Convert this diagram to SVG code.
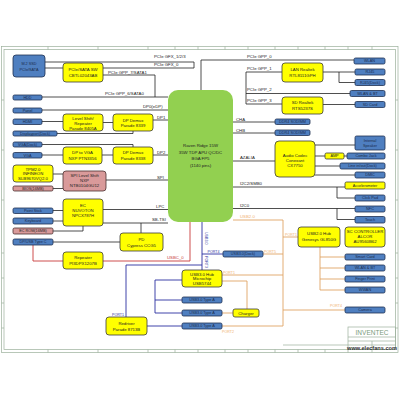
<svg xmlns="http://www.w3.org/2000/svg" width="400" height="400" viewBox="0 0 400 400">
<style>
text{font-family:"Liberation Sans",Arial,sans-serif;font-size:4.3px;fill:#222}
.c{text-anchor:middle}
.y{fill:#ffff00;stroke:#3a3a3a;stroke-width:0.8}
.b{fill:#4f7fc0;stroke:#1f3050;stroke-width:0.8}
.p{fill:#d99a9a;stroke:#4a3030;stroke-width:0.8}
.bt{fill:#1c2c4c;font-size:3.8px}
.k{fill:none;stroke:#222;stroke-width:0.8}
.o{fill:none;stroke:#e0a465;stroke-width:0.9}
.u{fill:none;stroke:#2a30a0;stroke-width:0.9}
.r{fill:none;stroke:#c83a3a;stroke-width:0.9}
.fr{fill:none;stroke:#9bb09b;stroke-width:0.7}
.ot{fill:#f0b070}
.ut{fill:#2a30a0}
.rt{fill:#c83a3a}
</style>
<rect width="400" height="400" fill="#fff"/>
<g id="frame">
<rect class="fr" x="1.5" y="46.5" width="396.5" height="306"/>
<rect class="fr" x="4" y="49.5" width="391.5" height="300"/>
<path class="fr" d="M48 46.5V49.5M98 46.5V49.5M148 46.5V49.5M175 46.5V49.5M198 46.5V49.5M225 46.5V49.5M248 46.5V49.5M275 46.5V49.5M298 46.5V49.5M325 46.5V49.5M348 46.5V49.5M372 46.5V49.5M48 349.5V352.5M98 349.5V352.5M148 349.5V352.5M175 349.5V352.5M198 349.5V352.5M225 349.5V352.5M248 349.5V352.5M275 349.5V352.5M298 349.5V352.5M325 349.5V352.5M348 349.5V352.5M372 349.5V352.5M1.5 100H4M1.5 150H4M1.5 200H4M1.5 253H4M1.5 278H4M1.5 303H4M1.5 328H4M395.5 100H398M395.5 150H398M395.5 200H398M395.5 253H398M395.5 278H398M395.5 303H398M395.5 328H398"/>
<rect class="fr" x="348" y="327" width="47.5" height="22.5"/>
<path class="fr" d="M348 337H395.5M348 341H395.5M348 345H395.5M283 345H348M372 341V349.5"/>
<text x="372" y="335" class="c" style="font-size:6.5px;fill:#7a9a7a">INVENTEC</text>
<text x="372" y="350" class="c" style="font-size:5.6px;font-weight:bold;fill:#333">www.elecfans.com</text>
</g>
<g id="connectors">
<path class="k" d="M45 62H194V68H45M103 75H155V97M42 97H168M42 110H168M42 121.5H63M103 122.5H113M153 120H168M57 133.5H133V131M42 144.5H133V147M42 155H63M102 155H113M153 155H168M53 174H63M53 188.5H63M106 180H168M103 209.5H168M103 223H168M141 223V233M53 210.5H63M53 221H63M53 231H83V226M53 242H120"/>
<path class="k" d="M201 90V60H354M246 72H282M246 93.5H350M246 104H282M246 72V104M323 72H355M339 72V82.5H355M323 104.5H355M233 122H275M233 133H275M233 161H275M315 145H355M315 156H325M344 156H347M315 166H340M315 175H355M233 187H345M337 187V198H355M233 208.5H355M337 208.5V219.5H355"/>
<path class="o" d="M233 220H283V326M283 237H298M263 254H283M222 275H283M222 281H247V309M222 313H233M222 326H283M283 310H345M320 247V290M320 257H345M320 268H345M320 279H345M320 290H345"/>
<path class="u" d="M202 222V270M202 254H223M202 265H126V317M147 326H182M182 280H155V313H182M155 300H182"/>
<path class="r" d="M190 222V261H103M63 261H33V245"/>
<text x="154" y="58">PCIe GFX_1/2/3</text>
<text x="154" y="65.5">PCIe GFX_0</text>
<text x="108" y="73.5">PCIe GPP_7/SATA1</text>
<text x="105" y="95">PCIe GPP_6/SATA0</text>
<text x="143" y="108">DP0(eDP)</text>
<text x="157" y="118.5">DP1</text>
<text x="157" y="153.5">DP2</text>
<text x="157" y="178.5">SPI</text>
<text x="156" y="207.5">LPC</text>
<text x="152" y="221">SB-TSI</text>
<text x="247" y="58">PCIe GPP_0</text>
<text x="247" y="69.5">PCIe GPP_1</text>
<text x="247" y="91">PCIe GPP_2</text>
<text x="247" y="102">PCIe GPP_3</text>
<text x="236" y="120.5">CHA</text>
<text x="236" y="131.5">CHB</text>
<text x="240" y="159">AZALIA</text>
<text x="240" y="185">I2C2/SMB0</text>
<text x="240" y="206.5">I2C0</text>
<text x="240" y="218" class="ot">USB2.0</text>
<text x="167" y="258.5" class="rt">USBC_0</text>
<text x="207.5" y="252.5" class="ut" style="font-size:3.6px">PORT4</text>
<text x="264" y="252.5" class="ot" style="font-size:3.6px">PORT5</text>
<text x="223" y="273.5" class="ot" style="font-size:3.6px">PORT1</text>
<text x="222" y="333" class="ot" style="font-size:3.6px">PORT2</text>
<text x="112" y="315.5" class="ut" style="font-size:3.6px">PORT1</text>
<text x="285" y="235.5" class="ot" style="font-size:3.6px">PORT1</text>
<text x="330" y="307" class="ot" style="font-size:3.6px">PORT4</text>
<text x="0" y="0" class="ut" style="font-size:3.6px" transform="translate(204.5 232) rotate(90)">USB3.0</text>
<text x="0" y="0" class="ut" style="font-size:3.6px" transform="translate(204.5 256) rotate(90)">PORT3</text>
</g>
<g id="apu"><rect x="168" y="90" width="65" height="132" rx="10" fill="#92d050"/>
<text class="c" x="200.5" y="147">Raven Ridge 15W</text><text class="c" x="200.5" y="153.5">35W TDP APU QC/DC</text><text class="c" x="200.5" y="160">BGA FP5</text><text class="c" x="200.5" y="166.7">(1140 pins)</text></g>
<g id="m2"><rect class="b" x="13" y="55" width="32" height="22" rx="3"/><text class="c bt" x="29" y="65">M.2 SSD</text><text class="c bt" x="29" y="70.5">PCIe/SATA</text></g>
<g id="sw"><rect class="y" x="63" y="63" width="40" height="19" rx="3"/><text class="c" x="83" y="71">PCIe/SATA SW</text><text class="c" x="83" y="77">CBTL02043AB</text></g>
<g id="hdd"><rect class="b" x="13" y="95" width="29" height="5" rx="1.5"/><text class="c bt" x="27.5" y="98.9">HDD</text></g>
<g id="panel"><rect class="b" x="13" y="108" width="29" height="5" rx="1.5"/><text class="c bt" x="27.5" y="111.9">Panel</text></g>
<g id="hdmi"><rect class="b" x="13" y="119" width="29" height="5.5" rx="1.5"/><text class="c bt" x="27.5" y="123.1">HDMI</text></g>
<g id="ls"><rect class="y" x="63" y="114" width="40" height="17" rx="3"/><text class="c" x="83" y="119.5">Level Shift/</text><text class="c" x="83" y="124.5">Repeater</text><text class="c" x="83" y="129.5">Parade 8405A</text></g>
<g id="dmx1"><rect class="y" x="113" y="114" width="40" height="17" rx="3"/><text class="c" x="133" y="121.5">DP Demux</text><text class="c" x="133" y="127">Parade 8339</text></g>
<g id="dpdock"><rect class="b" x="13" y="131" width="44" height="5" rx="1.5"/><text class="c bt" x="35" y="134.9">Displayport(Dock)</text></g>
<g id="vgadock"><rect class="b" x="13" y="142" width="29" height="5" rx="1.5"/><text class="c bt" x="27.5" y="145.9">VGA(Dock)</text></g>
<g id="vga"><rect class="b" x="13" y="152.5" width="29" height="5.5" rx="1.5"/><text class="c bt" x="27.5" y="156.6">VGA</text></g>
<g id="dp2vga"><rect class="y" x="63" y="147" width="39" height="17" rx="3"/><text class="c" x="82.5" y="154">DP to VGA</text><text class="c" x="82.5" y="159.5">NXP PTN3356</text></g>
<g id="dmx2"><rect class="y" x="113" y="147" width="40" height="17" rx="3"/><text class="c" x="133" y="154">DP Demux</text><text class="c" x="133" y="159.5">Parade 8338</text></g>
<g id="tpm"><rect class="y" x="13" y="165" width="40" height="17" rx="3"/><text class="c" x="33" y="170.5">TPM2.0</text><text class="c" x="33" y="175.3">INFINEON</text><text class="c" x="33" y="180">SLB9670VQ2.0</text></g>
<g id="bios"><rect class="p" x="13" y="186" width="40" height="5" rx="1.5"/><text class="c" x="33" y="189.9" style="font-size:3.8px">BIOS(16MB)</text></g>
<g id="spils"><rect class="p" x="63" y="171" width="43" height="20" rx="3"/><text class="c" x="84.5" y="177">SPI Level Shift</text><text class="c" x="84.5" y="182">NXP</text><text class="c" x="84.5" y="187">NTB0104GU12</text></g>
<g id="ec"><rect class="y" x="63" y="199" width="40" height="27" rx="3"/><text class="c" x="83" y="207">EC</text><text class="c" x="83" y="212">NUVOTON</text><text class="c" x="83" y="217">NPCX787H</text></g>
<g id="ps"><rect class="b" x="13" y="208" width="40" height="5.5" rx="1.5"/><text class="c bt" x="33" y="212.1">Point Stick</text></g>
<g id="kb"><rect class="b" x="13" y="218" width="40" height="6" rx="1.5"/><text class="c bt" x="33" y="222.3">Keyboard</text></g>
<g id="ecrom"><rect class="p" x="13" y="228" width="40" height="6" rx="1.5"/><text class="c" x="33" y="232.3" style="font-size:3.8px">EC ROM(16MB)</text></g>
<g id="typec"><rect class="b" x="13" y="239" width="40" height="6" rx="1.5"/><text class="c bt" x="33" y="243.3">DP/USB Type C</text></g>
<g id="pd"><rect class="y" x="120" y="233" width="43" height="18" rx="3"/><text class="c" x="141.5" y="240.5">PD</text><text class="c" x="141.5" y="246.5">Cypress CCG5</text></g>
<g id="rep"><rect class="y" x="63" y="252" width="40" height="17" rx="3"/><text class="c" x="83" y="259">Repeater</text><text class="c" x="83" y="265">PI3DPX1207B</text></g>
<g id="redrv"><rect class="y" x="106" y="317" width="41" height="18" rx="3"/><text class="c" x="126.5" y="324.5">Redriver</text><text class="c" x="126.5" y="330.5">Parade 8713B</text></g>
<g id="hub3"><rect class="y" x="182" y="270" width="40" height="17" rx="3"/><text class="c" x="202" y="275.5">USB3.0 Hub</text><text class="c" x="202" y="280">Microchip</text><text class="c" x="202" y="284.5">USB5744</text></g>
<g id="usbdock"><rect class="b" x="223" y="251" width="40" height="6" rx="1.5"/><text class="c bt" x="243" y="255.3">USB3.0(Dock)</text></g>
<g id="ta1"><rect class="b" x="182" y="297" width="40" height="6" rx="1.5"/><text class="c bt" x="202" y="301.3">USB3.0 Type A</text></g>
<g id="ta2"><rect class="b" x="182" y="310" width="40" height="6" rx="1.5"/><text class="c bt" x="202" y="314.3">USB3.0 Type A</text></g>
<g id="ta3"><rect class="b" x="182" y="323" width="40" height="6" rx="1.5"/><text class="c bt" x="202" y="327.3">USB3.0 Type A</text></g>
<g id="charger"><rect class="y" x="233" y="309" width="26" height="8" rx="2"/><text class="c" x="246" y="314.5">Charger</text></g>
<g id="wlan"><rect class="b" x="354" y="58" width="31" height="6" rx="1.5"/><text class="c bt" x="369.5" y="62.3">WLAN</text></g>
<g id="lan"><rect class="y" x="282" y="63" width="41" height="19" rx="3"/><text class="c" x="302.5" y="71">LAN Realtek</text><text class="c" x="302.5" y="77">RTL8111GPH</text></g>
<g id="rj45"><rect class="b" x="355" y="69" width="30" height="6" rx="1.5"/><text class="c bt" x="370" y="73.3">RJ45</text></g>
<g id="rj45d"><rect class="b" x="355" y="79.5" width="30" height="6" rx="1.5"/><text class="c bt" x="370" y="83.8">RJ45(Dock)</text></g>
<g id="wlanbt1"><rect class="b" x="350" y="90.5" width="35" height="6" rx="1.5"/><text class="c bt" x="367.5" y="94.8">WLAN &amp; BT</text></g>
<g id="sd"><rect class="y" x="282" y="97" width="41" height="17" rx="3"/><text class="c" x="302.5" y="104">SD Realtek</text><text class="c" x="302.5" y="110">RTS5237S</text></g>
<g id="sdcard"><rect class="b" x="355" y="101.5" width="30" height="6" rx="1.5"/><text class="c bt" x="370" y="105.8">SD Card</text></g>
<g id="dimm1"><rect class="b" x="275" y="119" width="35" height="5.5" rx="1.5"/><text class="c bt" x="292.5" y="123.1">DDR4 SODIMM</text></g>
<g id="dimm2"><rect class="b" x="275" y="130" width="35" height="5.5" rx="1.5"/><text class="c bt" x="292.5" y="134.1">DDR4 SODIMM</text></g>
<g id="spk"><rect class="b" x="355" y="136" width="30" height="14" rx="1.5"/><text class="c bt" x="370" y="142">Internal</text><text class="c bt" x="370" y="147">Speaker</text></g>
<g id="audio"><rect class="y" x="275" y="141" width="40" height="36" rx="4"/><text class="c" x="295" y="156.5">Audio Codec</text><text class="c" x="295" y="161.5">Conexant</text><text class="c" x="295" y="166.5">CX7750</text></g>
<g id="amp"><rect class="y" x="325" y="153" width="19" height="6" rx="1.5"/><text class="c" x="334.5" y="157.3" style="font-size:3.8px">AMP</text></g>
<g id="combo"><rect class="b" x="347" y="153" width="38" height="6" rx="1.5"/><text class="c bt" x="366" y="157.3">Combo Jack</text></g>
<g id="lineout"><rect class="b" x="340" y="163" width="45" height="6" rx="1.5"/><text class="c bt" x="362.5" y="167.3">Line in/out(Dock)</text></g>
<g id="dmic"><rect class="b" x="355" y="172" width="30" height="6" rx="1.5"/><text class="c bt" x="370" y="176.3">DMIC</text></g>
<g id="accel"><rect class="y" x="345" y="182" width="40" height="7" rx="1.5"/><text class="c" x="365" y="186.8" style="font-size:3.8px">Accelerometer</text></g>
<g id="clickpad"><rect class="b" x="355" y="195" width="30" height="6" rx="1.5"/><text class="c bt" x="370" y="199.3">Click Pad</text></g>
<g id="nfc"><rect class="b" x="355" y="206" width="30" height="6" rx="1.5"/><text class="c bt" x="370" y="210.3">NFC</text></g>
<g id="touch"><rect class="b" x="355" y="216.5" width="30" height="6.5" rx="1.5"/><text class="c bt" x="370" y="221">Touch</text></g>
<g id="hub2"><rect class="y" x="298" y="227" width="42" height="20" rx="3"/><text class="c" x="319" y="235">USB2.0 Hub</text><text class="c" x="319" y="240.5">Genesys GL850G</text></g>
<g id="sc"><rect class="y" x="345" y="227" width="40" height="20" rx="3"/><text class="c" x="365" y="233">SC CONTROLLER</text><text class="c" x="365" y="238">ALCOR</text><text class="c" x="365" y="243">AU9560B62</text></g>
<g id="smart"><rect class="b" x="345" y="254" width="40" height="6" rx="1.5"/><text class="c bt" x="365" y="258.3">Smart Card</text></g>
<g id="wlanbt2"><rect class="b" x="345" y="265" width="40" height="6" rx="1.5"/><text class="c bt" x="365" y="269.3">WLAN &amp; BT</text></g>
<g id="finger"><rect class="b" x="345" y="276" width="40" height="6" rx="1.5"/><text class="c bt" x="365" y="280.3">Finger Print</text></g>
<g id="wwan"><rect class="b" x="345" y="287" width="40" height="6" rx="1.5"/><text class="c bt" x="365" y="291.3">WWAN</text></g>
<g id="camera"><rect class="b" x="345" y="307" width="40" height="6" rx="1.5"/><text class="c bt" x="365" y="311.3">Camera</text></g>
</svg>
